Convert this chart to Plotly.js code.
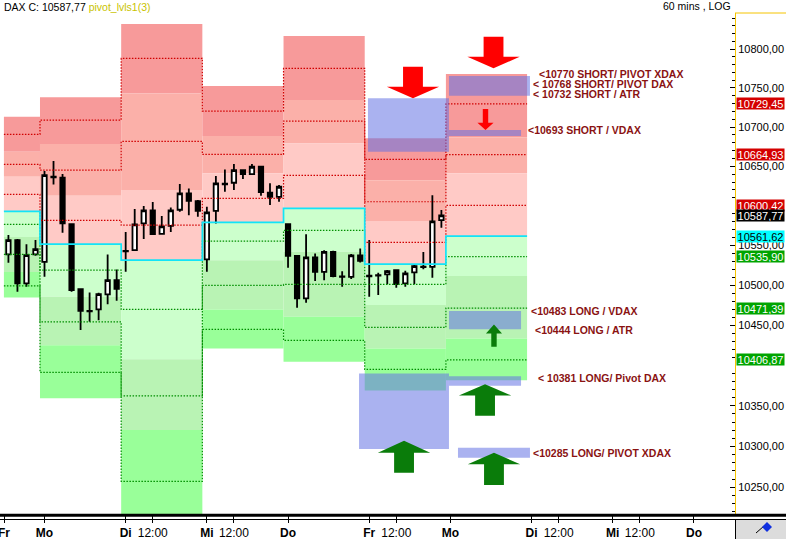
<!DOCTYPE html>
<html><head><meta charset="utf-8">
<script src="https://cdn.plot.ly/plotly-3.0.1.min.js"></script>
<style>html,body{margin:0;padding:0;background:#fff}#chart{width:786px;height:539px}</style>
</head><body><div id="chart"></div>
<script>
// ---- hourly candles (bar index, 9 bars per trading day) ----
const barX   = [-4,-3,-2,-1,0,1,2,3,4,5,6,7,8,9,10,11,12,13,14,15,16,17,18,19,20,21,22,23,24,25,26,27,28,29,30,31,32,33,34,35,36,37,38,39,40,41,42,43,44];
const openP  = [10538.6,10556.6,10502.2,10538.6,10529.3,10635.9,10635.4,10576.8,10495.0,10468.0,10469.7,10488.4,10506.3,10542.4,10544.0,10577.6,10594.1,10564.5,10574.6,10594.9,10615.6,10605.9,10532.3,10593.6,10627.0,10629.1,10645.1,10640.1,10649.4,10616.4,10611.3,10576.8,10536.9,10483.4,10534.8,10516.7,10541.9,10511.0,10510.5,10537.4,10511.0,10511.9,10513.5,10518.9,10502.2,10516.0,10522.7,10523.0,10581.8];
const highP  = [10562.9,10557.9,10551.5,10556.6,10643.9,10656.6,10640.1,10577.6,10496.0,10491.0,10490.4,10538.6,10519.7,10566.7,10595.8,10599.5,10604.6,10586.9,10597.9,10627.4,10621.9,10607.2,10598.6,10637.5,10646.0,10652.8,10646.0,10652.8,10650.6,10628.3,10626.1,10577.5,10537.5,10564.1,10539.9,10544.0,10543.1,10517.6,10539.0,10546.2,10556.6,10515.5,10518.9,10520.1,10518.0,10526.5,10541.5,10613.4,10594.5];
const lowP   = [10528.0,10491.7,10498.0,10536.9,10510.5,10627.0,10565.8,10491.7,10443.9,10454.2,10456.3,10476.3,10480.5,10516.7,10543.1,10557.9,10562.9,10564.3,10566.7,10592.3,10588.1,10586.0,10516.7,10577.6,10617.7,10619.8,10633.7,10638.8,10612.6,10600.8,10605.0,10521.8,10471.7,10478.0,10505.4,10506.3,10510.1,10498.0,10507.6,10528.6,10485.4,10487.6,10501.3,10496.7,10498.0,10501.3,10520.1,10509.2,10572.2];
const closeP = [10556.6,10502.2,10537.8,10545.3,10638.8,10636.7,10577.6,10493.9,10468.0,10467.4,10488.8,10506.3,10495.4,10543.1,10576.4,10594.1,10564.1,10573.9,10594.1,10615.6,10606.3,10593.6,10591.6,10628.3,10627.8,10645.1,10640.1,10649.4,10617.3,10611.3,10624.0,10536.9,10483.4,10534.8,10516.7,10541.9,10511.4,10510.5,10537.4,10530.6,10511.8,10512.6,10517.6,10501.3,10514.8,10523.9,10523.1,10580.2,10587.77];

// ---- daily pivot levels (one value per day) ----
const dayEdges   = [-4.5,-0.5,8.5,17.5,26.5,35.5,44.5,53.5];
const R3 = [10690.6,10708.9,10788.0,10720.4,10775.1,10658.7,10729.45];
const R2 = [10652.4,10645.1,10681.7,10665.1,10707.6,10605.0,10664.93];
const R1 = [10614.3,10581.5,10575.5,10609.3,10638.4,10553.7,10600.42];
const PP = [10592.8,10551.5,10531.4,10578.9,10596.6,10526.5,10561.62];
const S1 = [10576.4,10518.9,10469.7,10555.3,10568.8,10501.0,10535.90];
const S2 = [10538.6,10454.2,10362.4,10499.7,10501.0,10447.2,10471.39];
const S3 = [10499.2,10391.3,10257.2,10444.7,10431.0,10395.0,10406.87];
const zoneTop    = [10713.1,10737.9,10832.3,10752.4,10816.8,10685.5,10767.8];
const redMid1    = [10668.4,10678.2,10743.0,10688.5,10734.5,10632.4,10686.8];
const redMid2    = [10636.7,10612.6,10619.8,10641.0,10679.1,10580.6,10641.0];
const greenMid1  = [10560.4,10485.4,10407.8,10531.4,10541.9,10475.1,10511.4];
const greenMid2  = [10516.4,10425.2,10320.1,10469.7,10460.4,10421.1,10433.5];
const zoneBottom = [10484.7,10359.2,10204.0,10421.1,10404.4,10369.0,10381.7];

// ---- highlighted boxes ----
const boxX0  = [35.86,44.84,44.84,44.84,34.87,44.84,45.84];
const boxX1  = [44.84,53.82,52.83,52.83,44.84,52.83,53.82];
const boxTop = [10736.7,10765.2,10696.1,10467.6,10390.1,10386.7,10298.3];
const boxBot = [10668.4,10739.9,10688.5,10445.1,10296.7,10374.7,10286.1];

// ---- block arrows ----
const arrowX    = [40.85,49.78,48.89,39.86,48.84,49.83,49.83];
const arrowTail = [10777.2,10815.9,10722.9,10267.6,10337.7,10252.6,10423.1];
const arrowBase = [10751.5,10790.1,10705.4,10292.2,10362.8,10278.0,10439.7];
const arrowTip  = [10736.7,10775.1,10696.1,10306.9,10376.8,10292.2,10450.9];
const arrowDir  = ['short','short','short','long','long','long','long'];
const arrowSize = ['big','big','small','big','big','big','small'];

// ---- notes ----
const noteText = ['<10770 SHORT/ PIVOT XDAX','< 10768 SHORT/ PIVOT DAX','< 10732 SHORT / ATR','<10693 SHORT / VDAX','<10483 LONG / VDAX','<10444 LONG / ATR','< 10381 LONG/ Pivot DAX','<10285 LONG/ PIVOT XDAX'];
const noteX = [54.71,54.01,54.05,53.53,53.83,54.30,54.57,54.01];
const noteY = [10767.4,10754.6,10742.2,10696.1,10467.6,10443.9,10384.6,10292.2];

// ---- price labels on the right axis ----
const priceLabels = [10729.45,10664.93,10600.42,10587.77,10561.62,10535.90,10471.39,10406.87];
const priceKinds  = ['res','res','res','last','pivot','sup','sup','sup'];

// ---- axis ticks ----
const yTickVals = [10250,10300,10350,10450,10500,10550,10650,10700,10750,10800];
const xTickVals = [-4.49,0,9,12,18,21,27,36,39,45,54,57,63,66,72];
const xTickText = ['<b>Fr</b>','<b>Mo</b>','<b>Di</b>','12:00','<b>Mi</b>','12:00','<b>Do</b>','<b>Fr</b>','12:00','<b>Mo</b>','<b>Di</b>','12:00','<b>Mi</b>','12:00','<b>Do</b>'];

const fmt = v => v.toFixed(2).replace('.', ',');
const FONT = 'Liberation Sans, Arial, sans-serif';

// ---- traces ----
const traces = [];
function stepLine(vals, color, dash, width){
  traces.push({type:'scatter', mode:'lines', x:dayEdges, y:vals.concat([vals[vals.length-1]]),
    line:{shape:'hv', color:color, width:width, dash:dash}, hoverinfo:'skip'});
}
[R3,R2,R1].forEach(v => stepLine(v,'#d00000','1.5px,1.5px',1.2));
[S1,S2,S3].forEach(v => stepLine(v,'#008f00','1.5px,1.5px',1.2));
stepLine(PP,'#12e4f8','solid',1.7);

traces.push({type:'candlestick', x:barX, open:openP, high:highP, low:lowP, close:closeP,
  increasing:{line:{color:'#000',width:1.8}, fillcolor:'#ffffff'},
  decreasing:{line:{color:'#000',width:1.8}, fillcolor:'#000000'},
  whiskerwidth:0, hoverinfo:'skip'});

// ---- shapes ----
const shapes = [];
const bandColors = ['#f79a9a','#fbb0a9','#ffcac6','#ccffcc','#b9f3b4','#99ff99'];
for(let i=0;i<R3.length;i++){
  const edges=[zoneTop[i],redMid1[i],redMid2[i],PP[i],greenMid1[i],greenMid2[i],zoneBottom[i]];
  for(let b=0;b<6;b++){
    shapes.push({type:'rect', xref:'x', yref:'y', x0:dayEdges[i], x1:dayEdges[i+1], y0:edges[b+1], y1:edges[b],
      fillcolor:bandColors[b], line:{width:0}, layer:'below'});
  }
}
for(let i=0;i<boxX0.length;i++){
  shapes.push({type:'rect', xref:'x', yref:'y', x0:boxX0[i], x1:boxX1[i], y0:boxBot[i], y1:boxTop[i],
    fillcolor:'rgba(100,115,228,0.55)', line:{width:0}, layer:'above'});
}
for(let i=0;i<arrowX.length;i++){
  const big = arrowSize[i]==='big';
  const sw = big?1.1:0.3, hw = big?2.9:0.89;
  const cx = arrowX[i];
  const p = `M ${cx-sw},${arrowTail[i]} L ${cx+sw},${arrowTail[i]} L ${cx+sw},${arrowBase[i]} L ${cx+hw},${arrowBase[i]} L ${cx},${arrowTip[i]} L ${cx-hw},${arrowBase[i]} L ${cx-sw},${arrowBase[i]} Z`;
  const col = arrowDir[i]==='short' ? '#ff0000' : '#0a7c0a';
  shapes.push({type:'path', xref:'x', yref:'y', path:p, fillcolor:col, line:{width:0}, layer:'above'});
}
// frame lines
const py = p => (514 - p) / 501;   // pixel row -> paper
const px = p => p / 735;
shapes.push({type:'line', xref:'paper', yref:'paper', x0:0, x1:px(786), y0:py(515.3), y1:py(515.3), line:{color:'#000', width:3}, layer:'above'});
shapes.push({type:'line', xref:'paper', yref:'paper', x0:0, x1:px(786), y0:py(519.5), y1:py(519.5), line:{color:'#000', width:1}, layer:'above'});
shapes.push({type:'line', xref:'paper', yref:'paper', x0:1, x1:px(786), y0:1, y1:1, line:{color:'#f5c400', width:1}, layer:'above'});
shapes.push({type:'rect', xref:'paper', yref:'paper', x0:px(736), x1:px(786), y0:py(539), y1:py(520), fillcolor:'#dcdcdc', line:{width:0}, layer:'above'});
shapes.push({type:'line', xref:'paper', yref:'paper', x0:px(735.5), x1:px(735.5), y0:py(539), y1:py(520), line:{color:'#000', width:1}, layer:'above'});
shapes.push({type:'line', xref:'paper', yref:'paper', x0:px(756), x1:px(764), y0:py(533), y1:py(526), line:{color:'#000', width:1}, layer:'above'});
shapes.push({type:'path', xref:'paper', yref:'paper', path:`M ${px(762)},${py(527)} L ${px(767)},${py(522)} L ${px(772)},${py(527)} L ${px(767)},${py(532)} Z`, fillcolor:'#1030e0', line:{width:0}, layer:'above'});

// ---- annotations ----
const annotations = [];
annotations.push({xref:'paper', yref:'paper', x:px(2), y:py(7), xanchor:'left', yanchor:'middle', showarrow:false,
  text:'DAX C: 10587,77 <span style="color:#c9c300">pivot_lvls1(3)</span>', font:{family:FONT, size:10.5, color:'#000'}});
annotations.push({xref:'paper', yref:'paper', x:px(733), y:py(6.5), xanchor:'right', yanchor:'middle', showarrow:false,
  text:'60 mins , LOG', font:{family:FONT, size:10.5, color:'#000'}});
for(let i=0;i<noteText.length;i++){
  annotations.push({xref:'x', yref:'y', x:noteX[i], y:Math.log10(noteY[i]), xanchor:'left', yanchor:'middle', showarrow:false,
    text:'<b>'+noteText[i]+'</b>', font:{family:FONT, size:10.5, color:'#8a1212'}, borderpad:0});
}
const kindStyle = {res:['#d40000','#fff'], last:['#000','#fff'], pivot:['#00ffff','#000'], sup:['#00a400','#fff']};
for(let i=0;i<priceLabels.length;i++){
  const st = kindStyle[priceKinds[i]];
  annotations.push({xref:'paper', yref:'y', x:1, xshift:1, y:Math.log10(priceLabels[i]), xanchor:'left', yanchor:'middle', showarrow:false,
    width:47, height:11, align:'center', valign:'middle',
    text:fmt(priceLabels[i]), bgcolor:st[0], font:{family:FONT, size:11, color:st[1]}, borderpad:0});
}

const minorVals = [];
for(let v=10220; v<=10840; v+=10){ if(v%50!==0) minorVals.push(v); }

const layout = {
  width:786, height:539,
  margin:{l:0, r:51, t:13, b:25, pad:0},
  paper_bgcolor:'#fff', plot_bgcolor:'#fff', showlegend:false,
  font:{family:FONT, size:11, color:'#000'},
  xaxis:{range:[-4.933,76.55], showgrid:false, zeroline:false, showline:false,
    ticks:'outside', ticklen:8, tickwidth:1, tickcolor:'#000', ticklabeloverflow:'allow',
    tickmode:'array', tickvals:xTickVals, ticktext:xTickText,
    tickfont:{family:FONT, size:12, color:'#000'}, rangeslider:{visible:false}, fixedrange:true},
  yaxis:{type:'log', side:'right', range:[Math.log10(10217.3), Math.log10(10846.5)],
    showgrid:false, zeroline:false, showline:true, linecolor:'#f5c400', linewidth:1,
    ticks:'inside', ticklen:5, tickwidth:1, tickcolor:'#000',
    tickmode:'array', tickvals:yTickVals, ticktext:yTickVals.map(fmt),
    tickfont:{family:FONT, size:11, color:'#000'},
    minor:{tickmode:'array', tickvals:minorVals, ticks:'inside', ticklen:3, tickwidth:1, tickcolor:'#000'},
    fixedrange:true},
  shapes:shapes, annotations:annotations
};
Plotly.newPlot('chart', traces, layout, {staticPlot:true, displayModeBar:false});
</script>
</body></html>
